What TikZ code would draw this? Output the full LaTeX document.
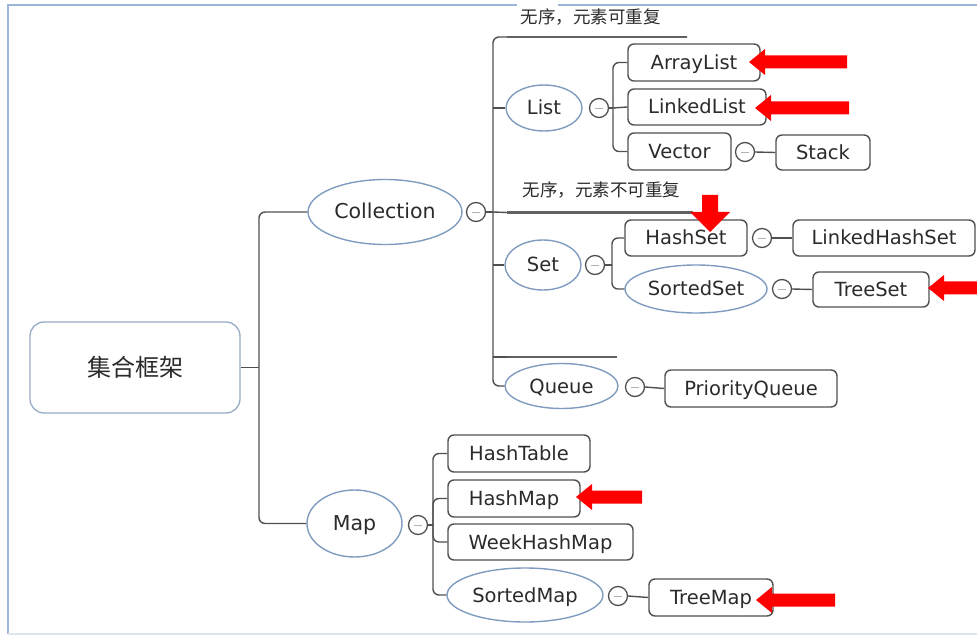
\documentclass[tikz,border=0pt]{standalone}
\usepackage{fontspec}
\usetikzlibrary{shapes.geometric}
\setmainfont{DejaVu Sans}
\newfontfamily\cjk{Noto Sans CJK SC}
\definecolor{txt}{HTML}{2B2B2B}
\definecolor{edge}{HTML}{505050}
\definecolor{ovl}{HTML}{7F9CC0}
\definecolor{frameblue}{HTML}{9DB5D9}
\definecolor{framegrey}{HTML}{DDE5EE}
\definecolor{markred}{HTML}{FF0000}
\newcommand{\LeftMark}[3]{% tip x, y, tail x
  \fill[markred] (#1,#2) -- (#1+16,#2-13) -- (#1+16,#2-6.5) -- (#3,#2-6.5)
    -- (#3,#2+6.5) -- (#1+16,#2+6.5) -- (#1+16,#2+13) -- cycle;}
\begin{document}
\begin{tikzpicture}[x=1pt,y=-1pt,
  every node/.style={text=txt,font=\fontsize{19.5}{22}\selectfont},
  lbl/.style={text height=18pt,text depth=4pt},
  box/.style={lbl,draw=edge,line width=1.4pt,rounded corners=6pt,fill=white,inner sep=0pt},
  oval/.style={lbl,ellipse,draw=ovl,line width=1.4pt,fill=white,inner sep=0pt},
  major/.style={font=\fontsize{20.5}{24}\selectfont},
  fold/.style={circle,draw=edge,line width=1.3pt,fill=white,minimum size=19pt,inner sep=0pt,
    path picture={\draw[gray!60,line width=0.8pt] ([xshift=-4pt]path picture bounding box.center) -- ([xshift=4pt]path picture bounding box.center);}},
  conn/.style={draw=edge,line width=1.4pt},
  elbow/.style={conn,rounded corners=6pt},
  rule/.style={draw=edge!90,line width=2.4pt},
  note/.style={fill=white,inner sep=1pt,font=\cjk\fontsize{17.5}{19}\selectfont}]
\useasboundingbox (0,0) rectangle (977,636);
% frame
\draw[frameblue,line width=1.8pt] (8,634) -- (8,5) -- (517,5);
\draw[frameblue,line width=1.8pt] (558,5) -- (977,5);
\draw[framegrey,line width=1.5pt] (8,634) -- (977,634);

% root and first level
\node[draw=frameblue!80!gray,line width=1.3pt,rounded corners=14pt,fill=white,
  minimum width=210pt,minimum height=91pt,inner sep=0pt,
  font=\cjk\fontsize{24}{27}\selectfont] (root) at (135,367.5) {集合框架};
\node[oval,major,minimum width=154pt,minimum height=65pt] (coll) at (385,212) {Collection};
\node[fold] (collf) at (476,212) {};
\node[oval,major,minimum width=95pt,minimum height=67pt] (map) at (354.5,523.5) {Map};
\node[fold] (mapf) at (418,525) {};

\coordinate (rj) at (259,367.5);
\draw[conn] (root.east) -- (rj);
\draw[elbow] (rj) |- (coll.west);
\draw[elbow] (rj) |- (map.west);

% Collection branches
\coordinate (top) at (493,37);
\coordinate (topr) at (687,37);
\coordinate (cj) at (493,212);
\coordinate (tl) at (493,108);
\coordinate (ts) at (493,265);
\coordinate (tq) at (493,357);
\node[oval,minimum width=76pt,minimum height=46pt] (list) at (544,108) {List};
\node[oval,minimum width=76pt,minimum height=50pt] (set) at (543,265) {Set};
\node[oval,minimum width=113pt,minimum height=45pt] (queue) at (561.5,386) {Queue};
\draw[elbow] (topr) -- (top) |- (queue.west);
\draw[conn] (collf.east) -- (cj);
\draw[conn] (tl) -- (list.west);
\draw[conn] (ts) -- (set.west);
\draw[conn] (cj) -- (507,212.5);
\draw[conn] (tq) -- (507,357);
\coordinate (r1a) at (507,37);
\coordinate (r2a) at (507,212.5);
\coordinate (r2b) at (693,212.5);
\coordinate (r3a) at (507,357);
\coordinate (r3b) at (617,357);
\draw[rule] (r1a) -- (topr);
\draw[rule] (r2a) -- (r2b);
\draw[rule] (r3a) -- (r3b);
\node[note] (n1) at (590.5,17) {无序，元素可重复};
\node[note] (n2) at (601.5,190) {无序，元素不可重复};

% List
\node[fold] (listf) at (599,108) {};
\coordinate (lj) at (613,108);
\node[box,minimum width=132pt,minimum height=37pt] (al) at (694,62.5) {ArrayList};
\node[box,minimum width=138pt,minimum height=36pt] (ll) at (697,107) {LinkedList};
\node[box,minimum width=103pt,minimum height=37pt] (vec) at (679.5,151.5) {Vector};
\node[fold] (vecf) at (745,152) {};
\node[box,minimum width=94pt,minimum height=35pt] (stack) at (823,152.5) {Stack};
\draw[conn] (listf.east) -- (lj);
\draw[elbow] (lj) |- (al.west);
\draw[conn] (lj) -- (ll.west);
\draw[elbow] (lj) |- (vec.west);
\draw[conn] (vecf.east) -- (stack.west);

% Set
\node[fold] (setf) at (595,265) {};
\coordinate (sj) at (612,265);
\node[box,minimum width=122pt,minimum height=36pt] (hs) at (686,238) {HashSet};
\node[fold] (hsf) at (762,238) {};
\node[box,minimum width=182pt,minimum height=36pt] (lhs) at (884,238) {LinkedHashSet};
\node[oval,minimum width=142pt,minimum height=48pt] (ss) at (696,289) {SortedSet};
\node[fold] (ssf) at (782,289) {};
\node[box,minimum width=116pt,minimum height=35pt] (ts2) at (871,289.5) {TreeSet};
\draw[conn] (setf.east) -- (sj);
\draw[elbow] (sj) |- (hs.west);
\draw[elbow] (sj) |- (ss.west);
\draw[conn] (hsf.east) -- (lhs.west);
\draw[conn] (ssf.east) -- (ts2.west);

% Queue
\node[fold] (qf) at (635,387) {};
\node[box,minimum width=172pt,minimum height=37pt] (pq) at (751,388.5) {PriorityQueue};
\draw[conn] (qf.east) -- (pq.west);

% Map
\coordinate (mj) at (433,525);
\node[box,minimum width=142pt,minimum height=37pt] (ht) at (519,453.5) {HashTable};
\node[box,minimum width=132pt,minimum height=37pt] (hm) at (514,498.5) {HashMap};
\node[box,minimum width=185pt,minimum height=36pt] (whm) at (540.5,542) {WeekHashMap};
\node[oval,minimum width=156pt,minimum height=54pt] (sm) at (525,595) {SortedMap};
\node[fold] (smf) at (618,596) {};
\node[box,minimum width=124pt,minimum height=37pt] (tm) at (711,597.5) {TreeMap};
\draw[conn] (mapf.east) -- (mj);
\draw[elbow] (mj) |- (ht.west);
\draw[elbow] (mj) |- (hm.west);
\draw[elbow] (mj) |- (whm.west);
\draw[elbow] (mj) |- (sm.west);
\draw[conn] (smf.east) -- (tm.west);

% red markers
\LeftMark{749}{62}{847}
\LeftMark{755}{108}{849}
\LeftMark{928}{288}{977}
\LeftMark{576}{497}{642}
\LeftMark{756}{600}{835}
\fill[markred] (710,232) -- (690,212) -- (702,212) -- (702,195) -- (718,195) -- (718,212) -- (730,212) -- cycle;
\end{tikzpicture}
\end{document}
